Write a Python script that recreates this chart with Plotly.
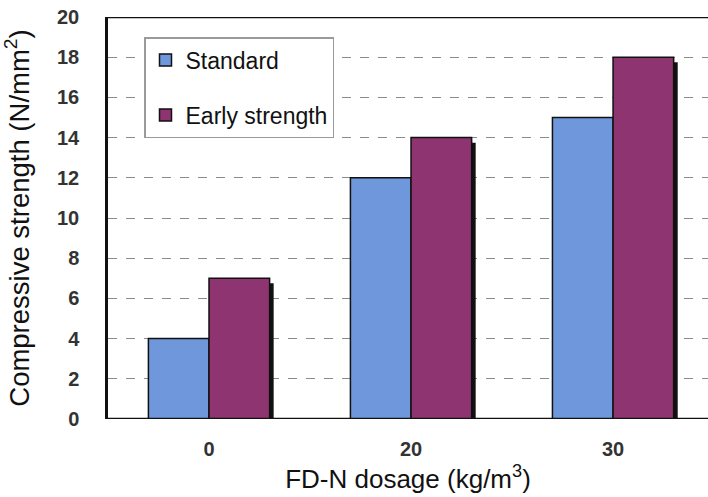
import plotly.graph_objects as go

categories = ["0", "20", "30"]
standard = [4, 12, 15]
early = [7, 14, 18]
series_names = ["Standard", "Early strength"]
y_ticks = [0, 2, 4, 6, 8, 10, 12, 14, 16, 18, 20]

blue = "#6F97DB"
purple = "#8E3470"
xpos = list(range(len(categories)))

fig = go.Figure()
# shadow behind early strength bars
fig.add_trace(go.Bar(
    x=xpos, y=[v - 0.25 for v in early], offset=0.02, width=0.3,
    marker=dict(color="#111111", line=dict(width=0)),
    showlegend=False, hoverinfo="skip"))
fig.add_trace(go.Bar(
    x=xpos, y=standard, offset=-0.3, width=0.3, name=series_names[0],
    legendgroup="a",
    marker=dict(color=blue, line=dict(color="#111111", width=1.5))))
fig.add_trace(go.Bar(
    x=xpos, y=early, offset=0.0, width=0.3, name=series_names[1],
    legendgroup="b",
    marker=dict(color=purple, line=dict(color="#111111", width=1.5))))

tickfont = dict(size=20, color="#333333", family="Liberation Sans, Arial, sans-serif", weight="bold")

fig.update_layout(
    width=708, height=497,
    margin=dict(l=108, r=0, t=17, b=78, autoexpand=False),
    paper_bgcolor="white", plot_bgcolor="white",
    barmode="overlay",
    font=dict(family="Liberation Sans, Arial, sans-serif", color="#111111"),
    showlegend=True,
    legend=dict(
        x=0.06, y=0.95, xanchor="left", yanchor="top",
        bgcolor="white", bordercolor="#9a9a9a", borderwidth=1.5,
        font=dict(size=23, color="#111111"),
        tracegroupgap=22, itemwidth=30,
    ),
    xaxis=dict(
        range=[-0.5, 2.47], tickmode="array", tickvals=xpos, ticktext=categories,
        showgrid=False, zeroline=False, showline=False, ticks="",
        automargin=False,
        tickfont=tickfont, ticklabelstandoff=16,
        title=dict(text="FD-N dosage (kg/m<sup>3</sup>)", font=dict(size=26, color="#111111"),
                   standoff=10),
    ),
    yaxis=dict(
        range=[0, 20], tickmode="array", tickvals=y_ticks,
        showgrid=True, gridcolor="#8a8a8a", griddash="dash", gridwidth=1,
        zeroline=False, showline=True, linecolor="#111111", linewidth=2.5,
        ticks="", ticklen=0, automargin=False,
        tickfont=tickfont,
        ticklabelstandoff=22,
        title=dict(text="Compressive strength (N/mm<sup>2</sup>)", font=dict(size=27.5, color="#111111"),
                   standoff=20),
    ),
)
# top border and bottom axis line
fig.add_shape(type="line", xref="paper", yref="y", x0=0, x1=1, y0=20, y1=20,
              line=dict(color="#111111", width=2.5))
fig.add_shape(type="line", xref="paper", yref="y", x0=0, x1=1, y0=0, y1=0,
              line=dict(color="#111111", width=2.5))

fig.write_html(
    "out.html",
    config={"displayModeBar": False},
    post_script="document.body.style.margin='0';document.body.style.overflow='hidden';",
)
